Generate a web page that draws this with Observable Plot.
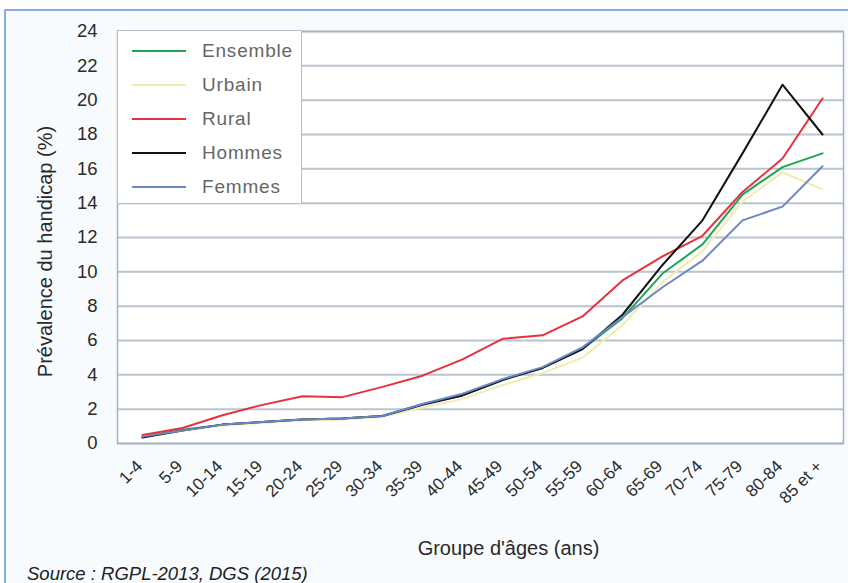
<!DOCTYPE html>
<html>
<head>
<meta charset="utf-8">
<script src="https://cdn.jsdelivr.net/npm/d3@7"></script>
<script src="https://cdn.jsdelivr.net/npm/@observablehq/plot@0.6"></script>
<style>
  body { margin: 0; background: #ffffff; font-family: "Liberation Sans", Arial, sans-serif; }
  #wrap { position: relative; width: 848px; height: 583px; overflow: hidden; background: #ffffff; }
  #frame { position: absolute; left: 4px; top: 9px; width: 900px; height: 640px; border: 2px solid #8aaedb; background: #f8fbfe; box-sizing: border-box; }
  #chart { position: absolute; left: 0; top: 0; }
  #legend { position: absolute; left: 117px; top: 30px; width: 185px; height: 174px; background: #ffffff; border: 1px solid #b3bfcc; box-sizing: border-box; }
  .item { position: absolute; left: 0; height: 22px; width: 185px; }
  .item .sw { position: absolute; left: 14px; top: 9.5px; width: 54px; height: 0; border-top: 2.5px solid; }
  .item .lb { position: absolute; left: 84px; top: 0; font-size: 19px; color: #666; letter-spacing: 0.8px; line-height: 22px; }
  #source { position: absolute; left: 27px; top: 564px; font-style: italic; font-size: 18.5px; line-height: 20px; color: #222; }
</style>
</head>
<body>
<div id="wrap">
  <div id="frame"></div>
  <div id="chart"></div>
  <div id="legend"></div>
  <div id="source">Source : RGPL-2013, DGS (2015)</div>
</div>
<script>
const categories = ["1-4","5-9","10-14","15-19","20-24","25-29","30-34","35-39","40-44","45-49","50-54","55-59","60-64","65-69","70-74","75-79","80-84","85 et +"];
const series = ["Ensemble","Urbain","Rural","Hommes","Femmes"];
const colors = ["#1fa552","#f1ecae","#e8313c","#111111","#6b87c9"];
const yTicks = [0,2,4,6,8,10,12,14,16,18,20,22,24];

const ensemble = [0.4,0.8,1.1,1.25,1.4,1.45,1.6,2.3,2.8,3.7,4.4,5.5,7.3,9.9,11.6,14.5,16.1,16.9];
const urbain   = [0.35,0.75,1.05,1.2,1.35,1.4,1.55,2.1,2.6,3.4,4.1,5.0,6.9,9.4,11.2,14.1,15.8,14.8];
const rural    = [0.5,0.9,1.65,2.25,2.75,2.7,3.3,3.95,4.9,6.1,6.3,7.4,9.5,10.9,12.1,14.65,16.6,20.1];
const hommes   = [0.35,0.75,1.1,1.25,1.4,1.45,1.6,2.25,2.8,3.7,4.4,5.5,7.5,10.4,13.0,16.9,20.9,18.0];
const femmes   = [0.4,0.75,1.1,1.25,1.4,1.45,1.6,2.3,2.9,3.75,4.45,5.6,7.35,9.1,10.65,13.0,13.8,16.15];
const values = [ensemble, urbain, rural, hommes, femmes];

const data = series.flatMap((s, j) => categories.map((c, i) => ({age: c, serie: s, v: values[j][i]})));

const chart = Plot.plot({
  width: 848,
  height: 583,
  marginLeft: 117,
  marginRight: 5,
  marginTop: 31,
  marginBottom: 140,
  style: {background: "transparent", fontFamily: "'Liberation Sans', Arial, sans-serif", fontSize: "17px", color: "#2a2a2a"},
  x: {type: "point", domain: categories, padding: 0, insetLeft: 20, insetRight: 16, label: null},
  y: {domain: [0, 24], label: null},
  color: {domain: series, range: colors},
  marks: [
    Plot.frame({fill: "#ffffff", stroke: null}),
    Plot.gridY(yTicks, {stroke: "#b9c4d0", strokeOpacity: 1, strokeWidth: 2}),
    Plot.frame({stroke: "#a3b3c4", strokeWidth: 1.5}),
    Plot.axisY(yTicks, {tickSize: 0, tickPadding: 20, label: null, fontSize: 18.5}),
    Plot.axisX({tickSize: 0, tickRotate: -45, tickPadding: 20, dx: -3, label: null, fontSize: 17}),
    Plot.lineY(data, {x: "age", y: "v", stroke: "serie", strokeWidth: 2, z: "serie"}),
    Plot.text(["Groupe d'âges (ans)"], {frameAnchor: "bottom", dx: 28, dy: 111, fontSize: 20, fill: "#2a2a2a"}),
    Plot.text(["Prévalence du handicap (%)"], {frameAnchor: "left", textAnchor: "middle", dx: -72, dy: 14, rotate: -90, fontSize: 20, fill: "#2a2a2a"})
  ]
});
document.getElementById("chart").appendChild(chart);

const legend = document.getElementById("legend");
series.forEach((s, j) => {
  const it = document.createElement("div");
  it.className = "item";
  it.style.top = (9 + j * 34) + "px";
  it.innerHTML = `<div class="sw" style="border-color:${colors[j]}"></div><div class="lb">${s}</div>`;
  legend.appendChild(it);
});
</script>
</body>
</html>
